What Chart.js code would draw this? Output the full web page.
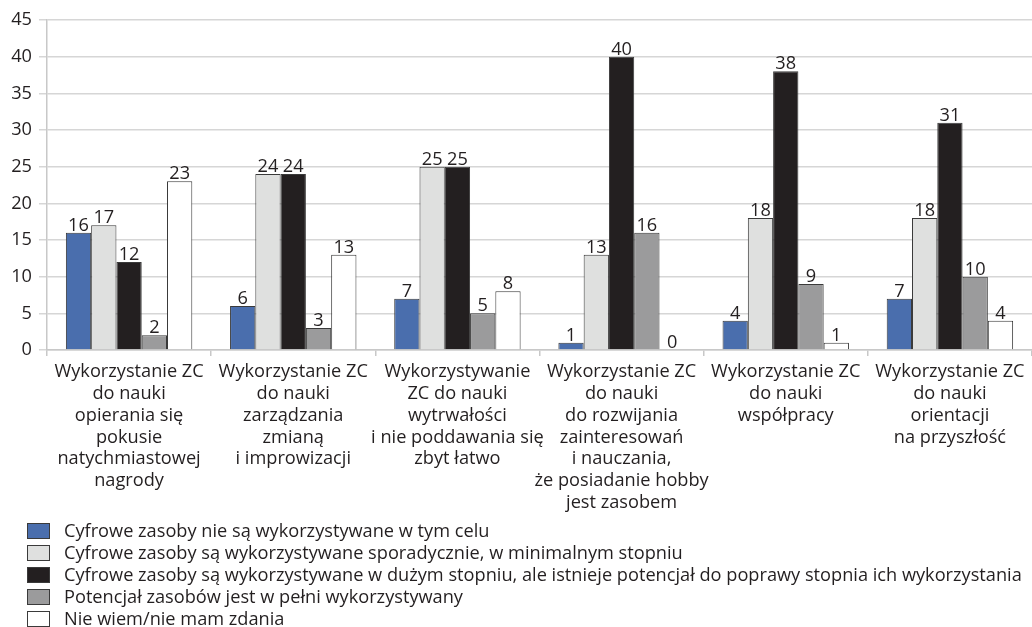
<!DOCTYPE html>
<html lang="pl">
<head>
<meta charset="utf-8">
<title>Wykorzystanie zasobów cyfrowych</title>
<script src="https://cdn.jsdelivr.net/npm/chart.js@4/dist/chart.umd.min.js"></script>
<style>
  html, body { margin: 0; padding: 0; background: #ffffff; }
  #wrap { width: 1032px; height: 627px; }
</style>
</head>
<body>
<div id="wrap"><canvas id="chart" width="1032" height="627"></canvas></div>
<script>
// Kategorie (etykiety osi X, wieloliniowe)
const categories = [
  ["Wykorzystanie ZC", "do nauki", "opierania się", "pokusie", "natychmiastowej", "nagrody"],
  ["Wykorzystanie ZC", "do nauki", "zarządzania", "zmianą", "i improwizacji"],
  ["Wykorzystywanie", "ZC do nauki", "wytrwałości", "i nie poddawania się", "zbyt łatwo"],
  ["Wykorzystanie ZC", "do nauki", "do rozwijania", "zainteresowań", "i nauczania,", "że posiadanie hobby", "jest zasobem"],
  ["Wykorzystanie ZC", "do nauki", "współpracy"],
  ["Wykorzystanie ZC", "do nauki", "orientacji", "na przyszłość"]
];

// Nazwy serii
const seriesNames = [
  "Cyfrowe zasoby nie są wykorzystywane w tym celu",
  "Cyfrowe zasoby są wykorzystywane sporadycznie, w minimalnym stopniu",
  "Cyfrowe zasoby są wykorzystywane w dużym stopniu, ale istnieje potencjał do poprawy stopnia ich wykorzystania",
  "Potencjał zasobów jest w pełni wykorzystywany",
  "Nie wiem/nie mam zdania"
];

// Wartości serii
const notUsed     = [16, 6, 7, 1, 4, 7];
const sporadic    = [17, 24, 25, 13, 18, 18];
const largeDegree = [12, 24, 25, 40, 38, 31];
const fullyUsed   = [2, 3, 5, 16, 9, 10];
const dontKnow    = [23, 13, 8, 0, 1, 4];

// Podziałka osi Y
const yTicks = [0, 5, 10, 15, 20, 25, 30, 35, 40, 45];

const seriesColors = ["#4a6ead", "#dfe0df", "#231f20", "#9b9b9c", "#ffffff"];
const FONT = "'Open Sans', 'Noto Sans', sans-serif";
const FONT_SIZE = 18.2;
const TEXT = "#231f20";

const seriesValues = [notUsed, sporadic, largeDegree, fullyUsed, dontKnow];

// Etykiety wartości nad słupkami
const valueLabels = {
  id: "valueLabels",
  afterDatasetsDraw(chart) {
    const ctx = chart.ctx;
    ctx.save();
    ctx.font = `${FONT_SIZE}px ${FONT}`;
    ctx.fillStyle = TEXT;
    ctx.textAlign = "center";
    ctx.textBaseline = "alphabetic";
    chart.data.datasets.forEach((ds, di) => {
      const meta = chart.getDatasetMeta(di);
      meta.data.forEach((bar, i) => {
        ctx.fillText(String(ds.data[i]), bar.x, bar.y - 2);
      });
    });
    ctx.restore();
  }
};

// Legenda w jednej kolumnie pod wykresem
const stackedLegend = {
  id: "stackedLegend",
  afterDraw(chart) {
    const ctx = chart.ctx;
    ctx.save();
    ctx.font = `${FONT_SIZE}px ${FONT}`;
    ctx.textBaseline = "middle";
    ctx.textAlign = "left";
    chart.data.datasets.forEach((ds, i) => {
      const cy = 531 + i * 22;
      ctx.fillStyle = ds.backgroundColor;
      ctx.fillRect(27.5, cy - 7.5, 22, 15);
      ctx.strokeStyle = "#3a3a3a";
      ctx.lineWidth = 1;
      ctx.strokeRect(27.5, cy - 7.5, 22, 15);
      ctx.fillStyle = TEXT;
      ctx.fillText(ds.label, 64, cy + 1);
    });
    ctx.restore();
  }
};

const datasets = seriesValues.map((vals, i) => ({
  label: seriesNames[i],
  data: vals,
  backgroundColor: seriesColors[i],
  borderColor: "#3a3a3a",
  borderWidth: 1,
  borderSkipped: "bottom",
  barPercentage: 1.0,
  categoryPercentage: 0.77
}));

new Chart(document.getElementById("chart"), {
  type: "bar",
  data: { labels: categories, datasets },
  options: {
    responsive: false,
    animation: false,
    events: [],
    layout: { padding: { top: 20, right: 0, bottom: 112, left: 0 } },
    plugins: {
      legend: { display: false },
      tooltip: { enabled: false }
    },
    scales: {
      x: {
        grid: {
          display: true,
          drawOnChartArea: false,
          drawTicks: true,
          tickLength: 6,
          color: "#c8c8c8",
          lineWidth: 1.5,
          offset: true
        },
        border: { display: true, color: "#c8c8c8", width: 1.5 },
        ticks: {
          color: TEXT,
          font: { family: FONT, size: FONT_SIZE, lineHeight: 1.2 },
          padding: 5,
          maxRotation: 0,
          autoSkip: false
        },
        afterFit(scale) { scale.height = 165; }
      },
      y: {
        min: 0,
        max: 45,
        afterBuildTicks(scale) { scale.ticks = yTicks.map(v => ({ value: v })); },
        grid: {
          color: "#d6d6d6",
          lineWidth: 1.5,
          drawTicks: true,
          tickLength: 8
        },
        border: { display: true, color: "#c8c8c8", width: 1.5 },
        ticks: {
          color: TEXT,
          font: { family: FONT, size: FONT_SIZE },
          padding: 7
        },
        afterFit(scale) { scale.width = 47; }
      }
    }
  },
  plugins: [valueLabels, stackedLegend]
});
</script>
</body>
</html>
